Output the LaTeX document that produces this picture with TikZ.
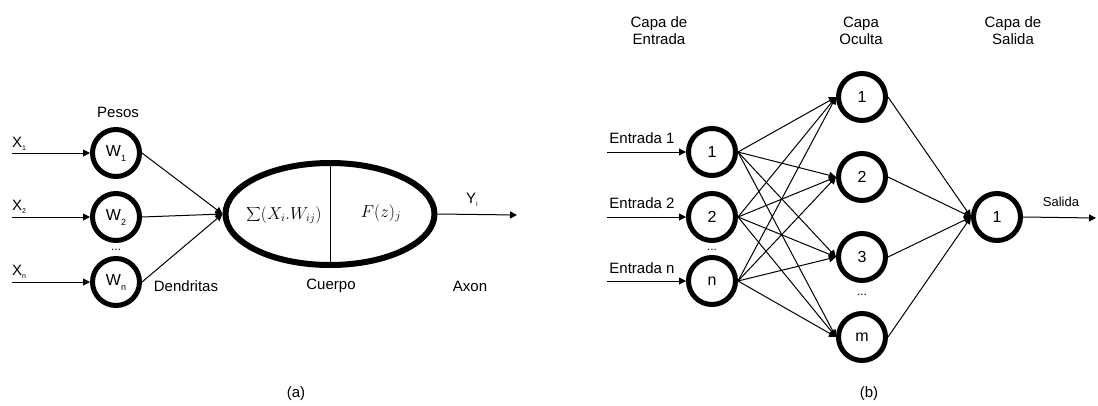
\documentclass[tikz,border=0pt]{standalone}
\usepackage[no-math]{fontspec}
\setmainfont{Liberation Sans}
\usetikzlibrary{arrows.meta,shapes.geometric}
\begin{document}
\begin{tikzpicture}[x=1pt,y=-1pt,
  neuron/.style={circle,draw,line width=5pt,minimum size=47pt,inner sep=0pt,
    font=\fontsize{16}{16}\selectfont},
  lbl/.style={font=\fontsize{15}{17}\selectfont,inner sep=0pt,align=center},
  small/.style={font=\fontsize{13}{15}\selectfont,inner sep=0pt},
  dots/.style={font=\fontsize{12}{12}\selectfont,inner sep=0pt},
  conn/.style={line width=1pt,-{Triangle[length=7pt,width=7pt]}},
  plain/.style={line width=1pt}
]
\useasboundingbox (0,0) rectangle (1098,405);

% ---------------- (a) ----------------
\node[neuron] (w1) at (116,153) {W\raisebox{-5pt}{\fontsize{9}{9}\selectfont 1}};
\node[neuron] (w2) at (116,217) {W\raisebox{-5pt}{\fontsize{9}{9}\selectfont 2}};
\node[neuron] (wn) at (116,282) {W\raisebox{-5pt}{\fontsize{9}{9}\selectfont n}};

\coordinate (x1) at (12,153);
\coordinate (x2) at (12,217);
\coordinate (xn) at (12,282);
\draw[conn] (x1) -- (w1);
\draw[conn] (x2) -- (w2);
\draw[conn] (xn) -- (wn);

\node[lbl,anchor=base west] (lx1) at (12,147) {X\raisebox{-3pt}{\fontsize{7}{7}\selectfont 1}};
\node[lbl,anchor=base west] (lx2) at (12,210) {X\raisebox{-3pt}{\fontsize{7}{7}\selectfont 2}};
\node[lbl,anchor=base west] (lxn) at (12,275) {X\raisebox{-3pt}{\fontsize{7}{7}\selectfont n}};

\node[lbl] (pesos) at (118,112) {Pesos};
\node[dots] (dw) at (116,250) {...};

\node[ellipse,draw,line width=6pt,minimum width=209pt,minimum height=102pt,inner sep=0pt] (body) at (330,214) {};
\draw[line width=1pt] (body.north) -- (body.south);
\node[inner sep=0pt] (sum) at (284,215) {\fontsize{16}{16}\selectfont $\displaystyle\sum\nolimits (X_i.W_{ij})$};
\node[inner sep=0pt] (fz) at (381,213) {\fontsize{17}{17}\selectfont $F(z)_j$};

\draw[conn] (w1.east) -- (body.west);
\draw[conn] (w2.east) -- (body.west);
\draw[conn] (wn.east) -- (body.west);

\coordinate (yout) at (517,215);
\draw[conn] (body.east) -- (yout);
\node[lbl] (yl) at (472,200) {Y\raisebox{-3pt}{\fontsize{7}{7}\selectfont i}};

\node[lbl] (dend) at (186,286) {Dendritas};
\node[lbl] (cuerpo) at (331,286) {Cuerpo};
\node[lbl] (axon) at (470,286) {Axon};
\node[lbl] (capa) at (296,394) {(a)};

% ---------------- (b) ----------------
\node[neuron] (i1) at (712,152) {1};
\node[neuron] (i2) at (712,217) {2};
\node[neuron] (in) at (712,281) {n};

\node[neuron] (h1) at (862,97) {1};
\node[neuron] (h2) at (862,177) {2};
\node[neuron] (h3) at (862,257) {3};
\node[neuron] (hm) at (862,337) {m};

\node[neuron] (o1) at (997,217) {1};

\coordinate (e1) at (607,152);
\coordinate (e2) at (607,217);
\coordinate (en) at (607,281);
\draw[conn] (e1) -- (i1);
\draw[conn] (e2) -- (i2);
\draw[conn] (en) -- (in);

\node[lbl] (le1) at (642,138) {Entrada 1};
\node[lbl] (le2) at (642,203) {Entrada 2};
\node[lbl] (len) at (642,268) {Entrada n};

\foreach \s in {i1,i2,in}{
  \foreach \t in {h1,h2,h3,hm}{
    \draw[conn] (\s.east) -- (\t.west);
  }
}
\foreach \s in {h1,h2,h3,hm}{
  \draw[conn] (\s.east) -- (o1.west);
}

\coordinate (sout) at (1096,218);
\draw[conn] (o1.east) -- (sout);
\node[small] (sal) at (1061,202) {Salida};

\node[dots] (di) at (712,250) {...};
\node[dots] (dh) at (862,295) {...};

\node[lbl] (t1) at (659,31) {Capa de\\Entrada};
\node[lbl] (t2) at (861,31) {Capa\\Oculta};
\node[lbl] (t3) at (1013,31) {Capa de\\Salida};
\node[lbl] (capb) at (869,394) {(b)};
\end{tikzpicture}
\end{document}
